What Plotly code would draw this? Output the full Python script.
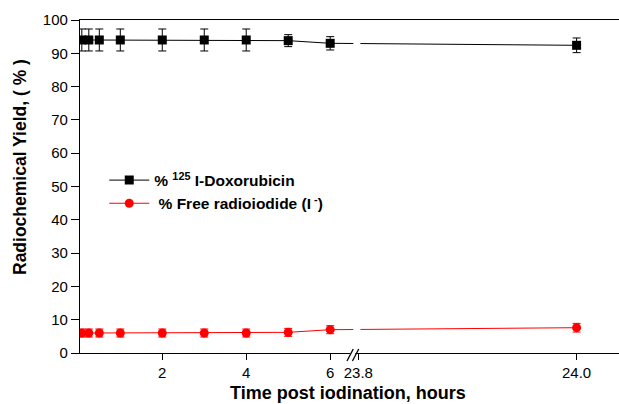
import plotly.graph_objects as go

# ---- data ----
hours = [0.083, 0.25, 0.5, 1, 2, 3, 4, 5, 6, 24]
doxo = [94, 94, 94, 94, 94, 94, 94, 93.8, 93, 92.4]
doxo_err = [3.3, 3.3, 3.3, 3.3, 3.3, 3.3, 3.3, 1.8, 2.0, 2.2]
free = [6.0, 6.0, 6.0, 6.0, 6.0, 6.0, 6.0, 6.2, 7.0, 7.6]
free_err = [1.2, 1.2, 1.2, 1.2, 1.2, 1.2, 1.2, 1.2, 1.2, 1.3]
tick_hours = [2, 4, 6, 23.8, 24.0]
tick_text = ["2", "4", "6", "23.8", "24.0"]

# broken-axis mapping: [0, 6.67] shown as is, [23.8, ...] stretched after the break
SEG1_END = 6.67
SEG2_START = 23.8
SEG2_SCALE = 26.0


def xpos(h):
    if h <= SEG1_END:
        return h
    return SEG1_END + (h - SEG2_START) * SEG2_SCALE


xd = [xpos(h) for h in hours]
tick_pos = [xpos(h) for h in tick_hours]

FONT = "Arial, Liberation Sans, sans-serif"

fig = go.Figure()
fig.add_trace(go.Scatter(
    x=xd, y=doxo, mode="lines+markers",
    name="<b>% <sup>125</sup> I-Doxorubicin</b>",
    line=dict(color="black", width=1),
    marker=dict(symbol="square", size=9, color="black"),
    error_y=dict(type="data", array=doxo_err, color="black", thickness=1, width=4),
))
fig.add_trace(go.Scatter(
    x=xd, y=free, mode="lines+markers",
    name="<b> % Free radioiodide (I<sup> -</sup>)</b>",
    line=dict(color="red", width=1),
    marker=dict(symbol="circle", size=9, color="red"),
    error_y=dict(type="data", array=free_err, color="red", thickness=1, width=4),
))

# gap in the lines at the break (display coordinates)
fig.add_shape(type="rect", xref="x", yref="paper", x0=6.55, x1=6.72, y0=0.006, y1=0.99,
              fillcolor="white", line=dict(width=0), layer="above")
# break marks on the axis
fig.add_shape(type="rect", xref="x", yref="paper", x0=6.47, x1=6.60, y0=-0.004, y1=0.004,
              fillcolor="white", line=dict(width=0), layer="above")
for a, b in [(6.40, 6.55), (6.53, 6.68)]:
    fig.add_shape(type="line", xref="x", yref="paper", x0=a, x1=b, y0=-0.024, y1=0.012,
                  line=dict(color="black", width=1.3), layer="above")

# axis titles as annotations (pixel-precise placement)
fig.add_annotation(text="<b>Radiochemical Yield, ( % )</b>", xref="paper", yref="paper",
                   x=(20 - 80) / 539, y=(353 - 167) / 333, showarrow=False, textangle=-90,
                   xanchor="center", yanchor="middle", font=dict(size=17.5, family=FONT))
fig.add_annotation(text="<b>Time post iodination, hours</b>", xref="paper", yref="paper",
                   x=(348 - 80) / 539, y=(353 - 393) / 333, showarrow=False,
                   xanchor="center", yanchor="middle", font=dict(size=18, family=FONT))

fig.update_layout(
    width=619, height=404,
    margin=dict(l=80, r=0, t=20, b=51),
    plot_bgcolor="white", paper_bgcolor="white",
    font=dict(family=FONT, size=15, color="black"),
    showlegend=True,
    legend=dict(x=0.045, y=0.569, xanchor="left", yanchor="top",
                bgcolor="rgba(0,0,0,0)", font=dict(size=15.5, family=FONT),
                itemwidth=40),
    xaxis=dict(
        range=[0.04, 12.88], tickvals=tick_pos, ticktext=tick_text,
        showgrid=False, zeroline=False, showline=True, linecolor="black", linewidth=1.3,
        mirror=True, ticks="outside", ticklen=6, tickcolor="black",
        tickfont=dict(size=15),
    ),
    yaxis=dict(
        range=[0, 100], dtick=10, tick0=0,
        showgrid=False, zeroline=False, showline=True, linecolor="black", linewidth=1.3,
        ticks="outside", ticklen=8, tickcolor="black", tickfont=dict(size=15),
    ),
)

fig.write_html("out.html")
